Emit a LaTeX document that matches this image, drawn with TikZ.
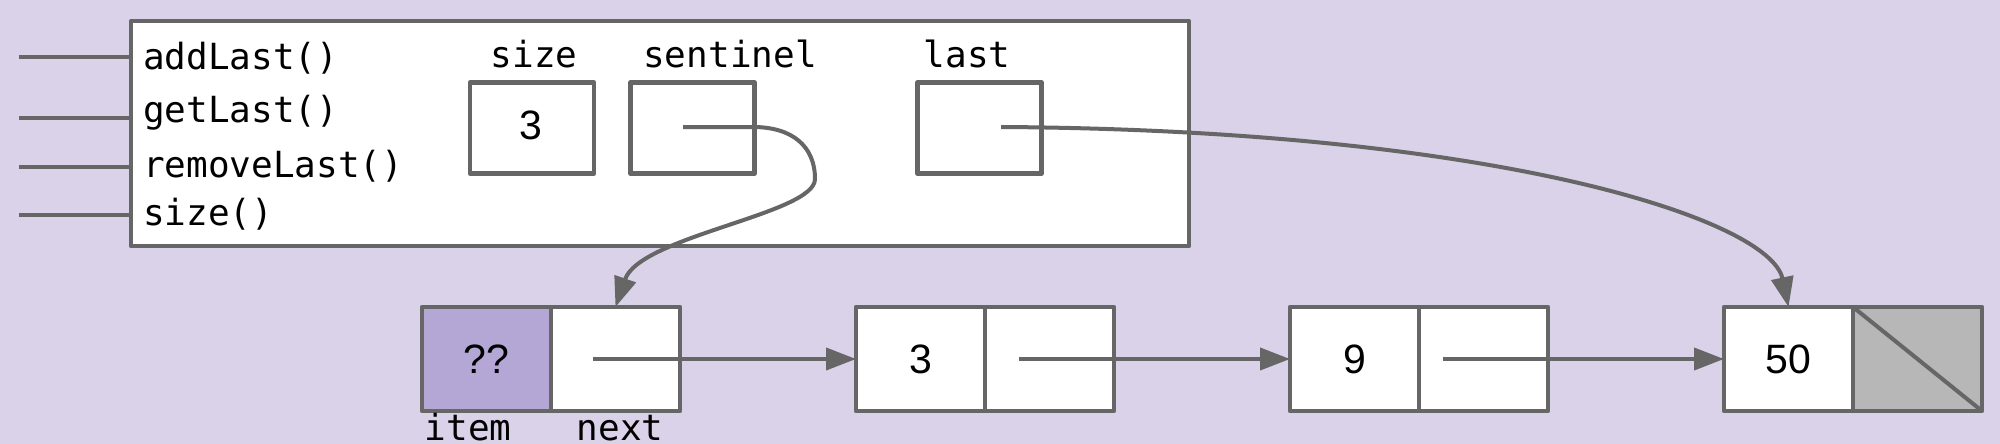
\documentclass[tikz,border=0pt]{standalone}
\usepackage{fontspec}
\setmainfont{Liberation Sans}
\newfontfamily\codefont{DejaVu Sans Mono}
\usetikzlibrary{arrows.meta}
\definecolor{bg}{HTML}{D9D2E9}
\definecolor{ln}{HTML}{666666}
\definecolor{itemfill}{HTML}{B4A7D6}
\definecolor{nullfill}{HTML}{B7B7B7}
\begin{document}
\begin{tikzpicture}[x=1pt,y=-1pt,
  box/.style={draw=ln, line width=4.5pt, fill=white, inner sep=0pt, outer sep=0pt, line join=round},
  fieldbox/.style={box, minimum width=124pt, minimum height=91pt},
  cell/.style={box, minimum width=129pt, minimum height=104pt},
  code/.style={font=\codefont\fontsize{36}{40}\selectfont, inner sep=0pt, text=black},
  num/.style={font=\fontsize{41}{45}\selectfont, text=black},
  conn/.style={draw=ln, line width=4pt},
  ptr/.style={conn, -{Triangle[length=30pt,width=22pt]}},
]
\fill[bg] (0,0) rectangle (2000,444);
\useasboundingbox (0,0) rectangle (2000,444);

% object box
\node[box, minimum width=1058pt, minimum height=225pt] (obj) at (660,133.5) {};

% interface lines
\coordinate (m1) at (19,57);
\coordinate (m2) at (19,118);
\coordinate (m3) at (19,167);
\coordinate (m4) at (19,215);
\draw[conn] (m1) -- (m1 -| obj.west);
\draw[conn] (m2) -- (m2 -| obj.west);
\draw[conn] (m3) -- (m3 -| obj.west);
\draw[conn] (m4) -- (m4 -| obj.west);

% method names
\node[code, anchor=base west] (t1) at (143,70) {addLast()};
\node[code, anchor=base west] (t2) at (143,122) {getLast()};
\node[code, anchor=base west] (t3) at (143,177) {removeLast()};
\node[code, anchor=base west] (t4) at (143,225) {size()};

% field labels
\node[code, anchor=base] (lsize) at (534,68) {size};
\node[code, anchor=base] (lsent) at (730,68) {sentinel};
\node[code, anchor=base] (llast) at (967,68) {last};

% field boxes
\node[fieldbox] (fsize) at (532,128) {};
\node[num] (vsize) at (531,125) {3};
\node[fieldbox] (fsent) at (692.5,128) {};
\node[fieldbox] (flast) at (979.5,128) {};

% list nodes
\node[cell, num, fill=itemfill] (n1i) at (486.5,359) {??};
\node[cell] (n1n) at (615.5,359) {};
\node[cell, num] (n2i) at (920.5,359) {3};
\node[cell] (n2n) at (1049.5,359) {};
\node[cell, num] (n3i) at (1354.5,359) {9};
\node[cell] (n3n) at (1483.5,359) {};
\node[cell, num] (n4i) at (1788.5,359) {50};
\node[cell, fill=nullfill] (n4n) at (1917.5,359) {};
\draw[conn] (n4n.north west) -- (n4n.south east);

% labels under first node
\node[code, anchor=base] (litem) at (468,440) {item};
\node[code, anchor=base] (lnext) at (620,440) {next};

% next pointers
\coordinate (s1) at (593,359);
\coordinate (s2) at (1019,359);
\coordinate (s3) at (1443,359);
\draw[ptr] (s1) -- (n2i.west);
\draw[ptr] (s2) -- (n3i.west);
\draw[ptr] (s3) -- (n4i.west);

% sentinel pointer
\coordinate (ps) at (683,127);
\draw[ptr] (ps) -- (753,127) .. controls (792,127) and (815,146) .. (815,179)
  .. controls (815,214) and (640,236) .. (n1n.north);

% last pointer
\coordinate (pl) at (1001,127);
\draw[ptr] (pl) .. controls (1500,130) and (1770,220) .. (n4i.north);
\end{tikzpicture}
\end{document}
